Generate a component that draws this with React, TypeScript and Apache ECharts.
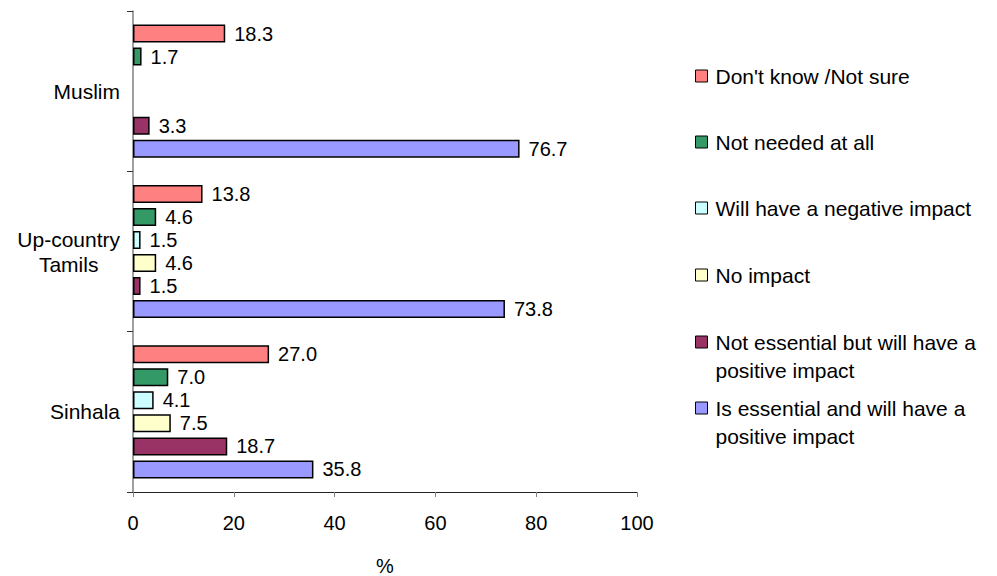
import React, { useEffect, useRef } from "react";
import * as echarts from "echarts";

const categories = ["Sinhala", "Up-country Tamils", "Muslim"];
const seriesNames = [
  "Don't know /Not sure",
  "Not needed at all",
  "Will have a negative impact",
  "No impact",
  "Not essential but will have a positive impact",
  "Is essential and will have a positive impact",
];
const dontKnow = [27.0, 13.8, 18.3];
const notNeeded = [7.0, 4.6, 1.7];
const negativeImpact = [4.1, 1.5, null];
const noImpact = [7.5, 4.6, null];
const notEssential = [18.7, 1.5, 3.3];
const isEssential = [35.8, 73.8, 76.7];
const xTicks = [0, 20, 40, 60, 80, 100];

const seriesValues = [dontKnow, notNeeded, negativeImpact, noImpact, notEssential, isEssential];
const colors = ["#FF8080", "#339966", "#CCFFFF", "#FFFFCC", "#993366", "#9999FF"];
const legendLines = [
  ["Don't know /Not sure"],
  ["Not needed at all"],
  ["Will have a negative impact"],
  ["No impact"],
  ["Not essential but will have a", "positive impact"],
  ["Is essential and will have a", "positive impact"],
];
const legendCenters = [76, 142, 208, 275, 342, 408];

const FONT = "'Liberation Sans', Arial, sans-serif";

export default function App() {
  const ref = useRef<HTMLDivElement>(null);
  useEffect(() => {
    if (!ref.current) return;
    const chart = echarts.init(ref.current, undefined, { renderer: "svg" });
    const LH = 28;
    const legends = seriesNames.map((name, i) => {
      const lines = legendLines[i];
      const multi = lines.length > 1;
      return {
        show: true,
        orient: "vertical",
        left: 695,
        top: multi ? legendCenters[i] - (LH * 3) / 2 : legendCenters[i] - LH / 2,
        padding: 0,
        icon: "rect",
        itemWidth: 12,
        itemHeight: 12,
        itemStyle: { borderColor: "#000", borderWidth: 1 },
        data: [name],
        formatter: () => (multi ? "\n" + lines.join("\n") : lines[0]),
        textStyle: {
          fontSize: 21,
          fontFamily: FONT,
          color: "#000",
          lineHeight: LH,
          padding: [0, 0, 0, 3],
        },
        selectedMode: false,
      };
    });
    const option = {
      animation: false,
      backgroundColor: "#fff",
      grid: {
        left: 133,
        right: 360,
        top: 11,
        bottom: 84,
        containLabel: false,
        outerBoundsMode: "none",
      },
      legend: legends,
      xAxis: {
        type: "value",
        min: xTicks[0],
        max: xTicks[xTicks.length - 1],
        interval: xTicks[1] - xTicks[0],
        name: "%",
        nameLocation: "middle",
        nameGap: 66,
        nameTextStyle: { fontSize: 20, fontFamily: FONT, color: "#000", lineHeight: 16 },
        axisLine: { show: true, lineStyle: { color: "#222", width: 1 } },
        axisTick: { show: true, length: 5, lineStyle: { color: "#808080" } },
        axisLabel: { fontSize: 20, fontFamily: FONT, color: "#000", margin: 21 },
        splitLine: { show: false },
      },
      yAxis: {
        type: "category",
        data: categories,
        axisLine: { show: true, lineStyle: { color: "#808080", width: 1.5 } },
        axisTick: { show: true, length: 6, lineStyle: { color: "#333" } },
        axisLabel: {
          margin: 13,
          formatter: (v: string) =>
            v
              .split(" ")
              .map((s) => `{c|${s}}`)
              .join("\n"),
          rich: {
            c: { fontSize: 21, fontFamily: FONT, color: "#000", align: "center", lineHeight: 25 },
          },
        },
        splitLine: { show: false },
      },
      series: seriesNames.map((name, i) => ({
        name,
        type: "bar",
        data: seriesValues[i],
        barWidth: 18,
        barGap: "28%",
        itemStyle: { color: colors[i], borderColor: "#000", borderWidth: 1.5 },
        label: {
          show: true,
          position: "right",
          distance: 9,
          fontSize: 20,
          fontFamily: FONT,
          color: "#000",
          formatter: (p: any) => (p.value == null ? "" : Number(p.value).toFixed(1)),
        },
      })),
    };
    chart.setOption(option as any);
    return () => chart.dispose();
  }, []);
  return (
    <div
      ref={ref}
      style={{ position: "fixed", left: 0, top: 0, width: 997, height: 576, background: "#fff" }}
    />
  );
}
